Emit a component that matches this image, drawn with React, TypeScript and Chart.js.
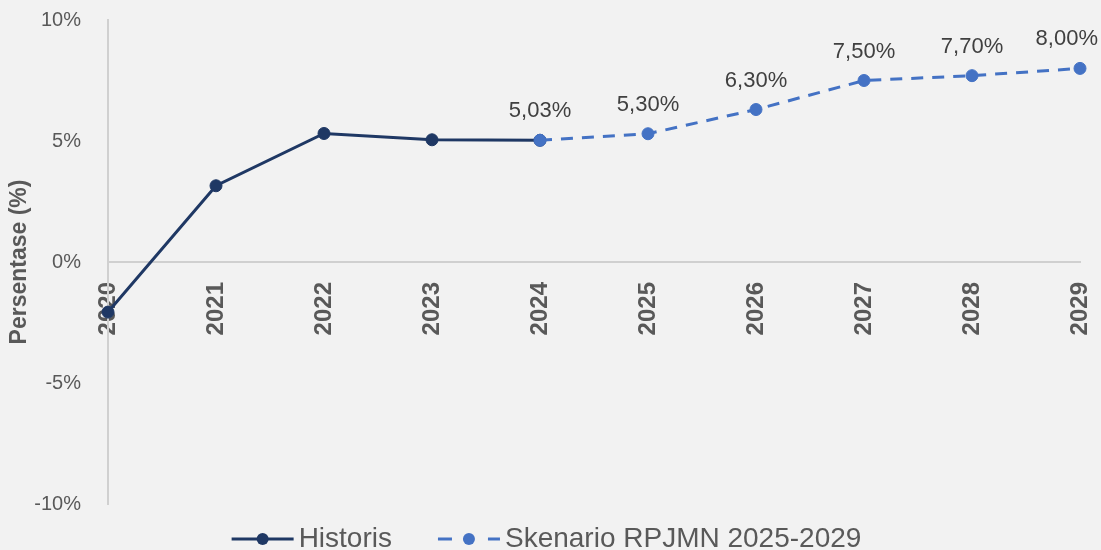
import React, { useEffect, useRef } from "react";
import { Chart, registerables } from "chart.js";

Chart.register(...registerables);

const years = ["2020", "2021", "2022", "2023", "2024", "2025", "2026", "2027", "2028", "2029"];
const historis = [-2.07, 3.15, 5.31, 5.05, 5.03, null, null, null, null, null];
const skenario = [null, null, null, null, 5.03, 5.3, 6.3, 7.5, 7.7, 8.0];
const seriesNames = ["Historis", "Skenario RPJMN 2025-2029"];
const yMin = -10;
const yMax = 10;
const yStep = 5;
const yTitle = "Persentase (%)";

const FONT = '"Liberation Sans", Arial, Helvetica, sans-serif';

const dataLabelPlugin = {
  id: "dataLabels",
  afterDatasetsDraw(chart: any) {
    const ctx = chart.ctx;
    const meta = chart.getDatasetMeta(1);
    ctx.save();
    ctx.font = `22px ${FONT}`;
    ctx.fillStyle = "#404040";
    ctx.textAlign = "center";
    ctx.textBaseline = "middle";
    meta.data.forEach((pt: any, i: number) => {
      const v = skenario[i];
      if (v == null) return;
      const txt = v.toFixed(2).replace(".", ",") + "%";
      const w = ctx.measureText(txt).width;
      const x = Math.min(pt.x, chart.width - w / 2 - 3);
      ctx.fillText(txt, x, pt.y - 29);
    });
    ctx.restore();
  },
};

const legendPlugin = {
  id: "customLegend",
  afterDraw(chart: any) {
    const ctx = chart.ctx;
    ctx.save();
    ctx.font = `28px ${FONT}`;
    const markerW = 62;
    const textGap = 5;
    const itemGap = 46;
    const y = 539;
    const items = chart.data.datasets
      .map((ds: any) => ({ label: ds.label, color: ds.borderColor, dashed: !!(ds.borderDash && ds.borderDash.length) }))
      .sort((a: any, b: any) => seriesNames.indexOf(a.label) - seriesNames.indexOf(b.label));
    const widths = items.map((it: any) => markerW + textGap + ctx.measureText(it.label).width);
    const total = widths.reduce((a: number, b: number) => a + b, 0) + itemGap * (items.length - 1);
    let x = chart.width / 2 - total / 2 - 4;
    items.forEach((it: any, i: number) => {
      ctx.strokeStyle = it.color;
      ctx.lineWidth = 3;
      ctx.setLineDash(it.dashed ? [14, 36] : []);
      ctx.beginPath();
      ctx.moveTo(x, y);
      ctx.lineTo(x + markerW, y);
      ctx.stroke();
      ctx.setLineDash([]);
      ctx.fillStyle = it.color;
      ctx.beginPath();
      ctx.arc(x + markerW / 2, y, 6, 0, Math.PI * 2);
      ctx.fill();
      ctx.fillStyle = "#595959";
      ctx.textAlign = "left";
      ctx.textBaseline = "middle";
      ctx.fillText(it.label, x + markerW + textGap, y);
      x += widths[i] + itemGap;
    });
    ctx.restore();
  },
};

export default function App() {
  const canvasRef = useRef<HTMLCanvasElement | null>(null);

  useEffect(() => {
    if (!canvasRef.current) return;
    const chart = new Chart(canvasRef.current, {
      type: "line",
      data: {
        labels: years,
        datasets: [
          {
            label: seriesNames[0],
            data: historis,
            borderColor: "#1f3864",
            backgroundColor: "#1f3864",
            borderWidth: 3,
            pointRadius: 6,
            pointBorderWidth: 1,
            pointBorderColor: "#1f3864",
            pointBackgroundColor: "#1f3864",
            tension: 0,
            order: 1,
          },
          {
            label: seriesNames[1],
            data: skenario,
            borderColor: "#4472c4",
            backgroundColor: "#4472c4",
            borderWidth: 3,
            borderDash: [12, 9],
            pointRadius: 6,
            pointBorderWidth: 1,
            pointBorderColor: "#4472c4",
            pointBackgroundColor: "#4472c4",
            tension: 0,
            order: 0,
          },
        ],
      },
      options: {
        responsive: false,
        animation: false,
        devicePixelRatio: 1,
        layout: { padding: { top: 20, right: 21, bottom: 46, left: 0 } },
        plugins: {
          legend: { display: false },
          tooltip: { enabled: false },
        },
        scales: {
          x: {
            type: "category",
            position: { y: 0 },
            offset: false,
            grid: { display: false },
            border: { display: true, color: "#d0d0d0", width: 2 },
            ticks: {
              minRotation: 90,
              maxRotation: 90,
              padding: 12,
              color: "#595959",
              font: { family: FONT, size: 24, weight: "bold" },
            },
            afterFit: (scale: any) => {
              scale.paddingLeft = 0;
              scale.paddingRight = 0;
              scale.paddingTop = 0;
              scale.paddingBottom = 0;
            },
          },
          y: {
            type: "linear",
            min: yMin,
            max: yMax,
            grid: { display: false },
            border: { display: true, color: "#d0d0d0", width: 2 },
            ticks: {
              stepSize: yStep,
              padding: 19,
              color: "#595959",
              font: { family: FONT, size: 20 },
              callback: (v: any) => `${v}%`,
            },
            title: {
              display: true,
              text: yTitle,
              color: "#595959",
              font: { family: FONT, size: 23, weight: "bold" },
              padding: { top: 6, bottom: 0 },
            },
            afterFit: (scale: any) => {
              scale.width = 108;
              scale.paddingTop = 0;
              scale.paddingBottom = 0;
            },
          },
        },
      },
      plugins: [dataLabelPlugin, legendPlugin],
    } as any);
    return () => chart.destroy();
  }, []);

  return (
    <div
      style={{
        position: "fixed",
        left: 0,
        top: 0,
        width: 1101,
        height: 550,
        background: "#f2f2f2",
        overflow: "hidden",
      }}
    >
      <canvas ref={canvasRef} width={1101} height={550} style={{ display: "block" }} />
    </div>
  );
}
